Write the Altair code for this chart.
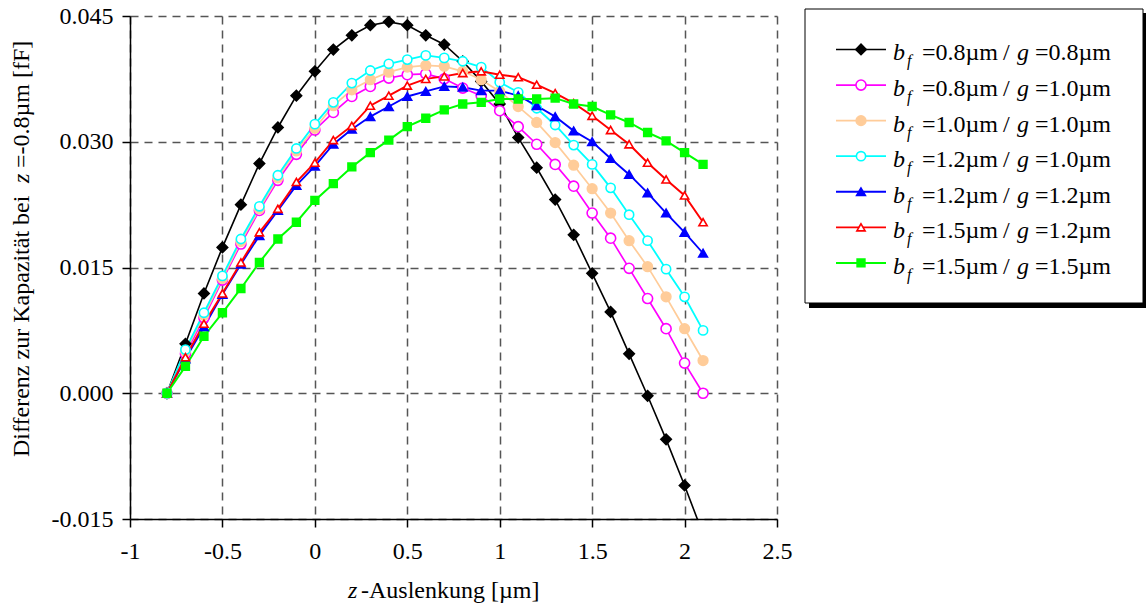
import altair as alt
import pandas as pd

FONT = "Liberation Serif"

# ---------------- data ----------------
z_um = [-0.8, -0.7, -0.6, -0.5, -0.4, -0.3, -0.2, -0.1, 0.0, 0.1,
        0.2, 0.3, 0.4, 0.5, 0.6, 0.7, 0.8, 0.9, 1.0, 1.1,
        1.2, 1.3, 1.4, 1.5, 1.6, 1.7, 1.8, 1.9, 2.0, 2.1]

s_08_08 = [0.0, 0.0059, 0.0119, 0.0174, 0.0225, 0.0274, 0.0317, 0.0355, 0.0384, 0.0410,
           0.0427, 0.0439, 0.0443, 0.0439, 0.0427, 0.0416, 0.0396, 0.0372, 0.0345, 0.0305,
           0.0269, 0.0231, 0.0189, 0.0143, 0.0097, 0.0047, -0.0003, -0.0055, -0.0110, -0.0168]
s_08_10 = [0.0, 0.0047, 0.0090, 0.0135, 0.0178, 0.0218, 0.0254, 0.0285, 0.0314, 0.0335,
           0.0354, 0.0366, 0.0376, 0.0380, 0.0381, 0.0375, 0.0364, 0.0355, 0.0337, 0.0318,
           0.0297, 0.0273, 0.0247, 0.0215, 0.0185, 0.0149, 0.0113, 0.0077, 0.0036, 0.0000]
s_10_10 = [0.0, 0.0050, 0.0093, 0.0137, 0.0181, 0.0220, 0.0257, 0.0289, 0.0316, 0.0343,
           0.0362, 0.0374, 0.0383, 0.0389, 0.0391, 0.0390, 0.0384, 0.0374, 0.0360, 0.0342,
           0.0323, 0.0299, 0.0272, 0.0244, 0.0215, 0.0182, 0.0151, 0.0115, 0.0077, 0.0039]
s_12_10 = [0.0, 0.0052, 0.0096, 0.0140, 0.0184, 0.0223, 0.0260, 0.0292, 0.0321, 0.0347,
           0.0370, 0.0385, 0.0393, 0.0398, 0.0403, 0.0400, 0.0396, 0.0389, 0.0371, 0.0359,
           0.0340, 0.0320, 0.0296, 0.0273, 0.0245, 0.0213, 0.0182, 0.0148, 0.0115, 0.0075]
s_12_12 = [0.0, 0.0041, 0.0079, 0.0118, 0.0154, 0.0188, 0.0218, 0.0248, 0.0271, 0.0297,
           0.0315, 0.0330, 0.0342, 0.0354, 0.0360, 0.0366, 0.0365, 0.0361, 0.0361, 0.0355,
           0.0343, 0.0330, 0.0313, 0.0300, 0.0280, 0.0261, 0.0239, 0.0215, 0.0192, 0.0167]
s_15_12 = [0.0, 0.0043, 0.0083, 0.0119, 0.0156, 0.0192, 0.0220, 0.0252, 0.0275, 0.0302,
           0.0319, 0.0343, 0.0355, 0.0367, 0.0375, 0.0378, 0.0382, 0.0384, 0.0380, 0.0377,
           0.0368, 0.0358, 0.0346, 0.0331, 0.0314, 0.0297, 0.0275, 0.0255, 0.0236, 0.0204]
s_15_15 = [0.0, 0.0032, 0.0068, 0.0096, 0.0125, 0.0156, 0.0184, 0.0204, 0.0230, 0.0250,
           0.0270, 0.0287, 0.0302, 0.0318, 0.0328, 0.0338, 0.0345, 0.0347, 0.0351, 0.0351,
           0.0351, 0.0352, 0.0345, 0.0342, 0.0332, 0.0323, 0.0311, 0.0301, 0.0287, 0.0273]

bf_vals = ["0.8", "0.8", "1.0", "1.2", "1.2", "1.5", "1.5"]
g_vals = ["0.8", "1.0", "1.0", "1.0", "1.2", "1.2", "1.5"]
series_values = [s_08_08, s_08_10, s_10_10, s_12_10, s_12_12, s_15_12, s_15_15]

series_names = [f"bf={b} / g={g}" for b, g in zip(bf_vals, g_vals)]
stroke_colors = ["#000000", "#FF00FF", "#FFCC99", "#00FFFF", "#0000FF", "#FF0000", "#00FF00"]
fill_colors = ["#000000", "#FFFFFF", "#FFCC99", "#FFFFFF", "#0000FF", "#FFFFFF", "#00FF00"]
shapes = ["diamond", "circle", "circle", "circle", "triangle-up", "triangle-up", "square"]
sizes = [110, 60, 90, 60, 110, 100, 85]
line_widths = [1.6, 2, 2, 2, 2, 2, 2]

x_ticks = [-1, -0.5, 0, 0.5, 1, 1.5, 2, 2.5]
y_ticks = [-0.015, 0.0, 0.015, 0.030, 0.045]

y_title_parts = ["Differenz zur Kapazität bei", "z", "=-0.8µm [fF]"]
x_title_parts = ["z", "-Auslenkung [µm]"]

rows = []
for name, vals in zip(series_names, series_values):
    for xv, yv in zip(z_um, vals):
        rows.append({"z": xv, "dC": yv, "series": name})
df = pd.DataFrame(rows)

leg = pd.DataFrame({
    "series": series_names,
    "bfpart": ["=" + b + "µm" for b in bf_vals],
    "gpart": ["=" + g + "µm" for g in g_vals],
})

# ---------------- scales ----------------
color_sc = alt.Scale(domain=series_names, range=stroke_colors)
fill_sc = alt.Scale(domain=series_names, range=fill_colors)
shape_sc = alt.Scale(domain=series_names, range=shapes)
size_sc = alt.Scale(domain=series_names, range=sizes)
sw_sc = alt.Scale(domain=series_names, range=line_widths)

axis_common = dict(
    labelFont=FONT, labelFontSize=24, labelColor="black",
    labelFlush=False, labelOverlap=False,
    tickSize=8, tickColor="black", tickWidth=1.5,
    domainColor="black", domainWidth=1.5,
    grid=True, gridColor="#555555", gridDash=[8, 6], gridWidth=1.5,
    title=None,
)

x_enc = alt.X("z:Q", scale=alt.Scale(domain=[-1, 2.5], nice=False, zero=False),
              axis=alt.Axis(values=x_ticks, labelPadding=12,
                            labelExpr="(datum.value < 0 ? '-' : '') + format(abs(datum.value), '~g')",
                            **axis_common))
y_enc = alt.Y("dC:Q", scale=alt.Scale(domain=[-0.015, 0.045], nice=False, zero=False),
              axis=alt.Axis(values=y_ticks, labelPadding=9,
                            labelExpr="(datum.value < 0 ? '-' : '') + format(abs(datum.value), '.3f')",
                            **axis_common))

lines = alt.Chart(df).mark_line(clip=True).encode(
    x=x_enc, y=y_enc,
    color=alt.Color("series:N", scale=color_sc, legend=None),
    strokeWidth=alt.StrokeWidth("series:N", scale=sw_sc, legend=None),
)
points = alt.Chart(df).mark_point(clip=True, opacity=1, fillOpacity=1, strokeWidth=1.6).encode(
    x="z:Q", y="dC:Q",
    shape=alt.Shape("series:N", scale=shape_sc, legend=None),
    stroke=alt.Stroke("series:N", scale=color_sc, legend=None),
    fill=alt.Fill("series:N", scale=fill_sc, legend=None),
    size=alt.Size("series:N", scale=size_sc, legend=None),
)


def txt(s, x, y, size=24, style="normal", angle=0, align="left", baseline="alphabetic"):
    return alt.Chart(pd.DataFrame({"t": [s]})).mark_text(
        font=FONT, fontSize=size, fontStyle=style, angle=angle,
        align=align, baseline=baseline, color="black"
    ).encode(x=alt.value(x), y=alt.value(y), text="t:N")


titles = [
    txt(y_title_parts[0], -108, 441, angle=270, baseline="middle"),
    txt(y_title_parts[1], -108, 167, style="italic", angle=270, baseline="middle"),
    txt(y_title_parts[2], -108, 152, angle=270, baseline="middle"),
    txt(x_title_parts[0], 218, 582, style="italic"),
    txt(x_title_parts[1], 231, 582),
]

main = alt.layer(lines, points, *titles)

# ---------------- legend ----------------
one = pd.DataFrame({"a": [0]})
shadow = alt.Chart(one).mark_rect(color="black").encode(
    x=alt.value(679), x2=alt.value(1016), y=alt.value(-3), y2=alt.value(292))
box = alt.Chart(one).mark_rect(fill="white", stroke="black", strokeWidth=1).encode(
    x=alt.value(675), x2=alt.value(1013), y=alt.value(-7), y2=alt.value(287))

leg_y = alt.Y("series:N", scale=alt.Scale(domain=series_names, range=[15.7, 264.7], padding=0), axis=None)

leg_lines = alt.Chart(leg).mark_rule().encode(
    x=alt.value(706), x2=alt.value(756), y=leg_y,
    color=alt.Color("series:N", scale=color_sc, legend=None),
    strokeWidth=alt.StrokeWidth("series:N", scale=sw_sc, legend=None),
)
leg_points = alt.Chart(leg).mark_point(opacity=1, fillOpacity=1, strokeWidth=1.6).encode(
    x=alt.value(731), y=leg_y,
    shape=alt.Shape("series:N", scale=shape_sc, legend=None),
    stroke=alt.Stroke("series:N", scale=color_sc, legend=None),
    fill=alt.Fill("series:N", scale=fill_sc, legend=None),
    size=alt.Size("series:N", scale=size_sc, legend=None),
)


def leg_text(x, dy, size=24, style="normal", text=None, field=None):
    mk = alt.Chart(leg).mark_text(font=FONT, fontSize=size, fontStyle=style, align="left",
                                  baseline="alphabetic", dy=dy, color="black",
                                  **({"text": text} if text is not None else {}))
    enc = dict(x=alt.value(x), y=leg_y)
    if field is not None:
        enc["text"] = alt.Text(field + ":N")
    return mk.encode(**enc)


leg_texts = [
    leg_text(763, 11, style="italic", text="b"),
    leg_text(777, 17, size=16, style="italic", text="f"),
    leg_text(792, 11, field="bfpart"),
    leg_text(873, 11, text="/"),
    leg_text(887, 11, style="italic", text="g"),
    leg_text(905, 11, field="gpart"),
]

legend = alt.layer(shadow, box, leg_lines, leg_points, *leg_texts)

chart = alt.layer(main, legend).resolve_scale(y="independent").properties(
    width=647, height=503,
    autosize=alt.AutoSizeParams(type="none"),
    padding={"left": 130, "top": 16, "right": 369, "bottom": 86},
    background="white",
).configure_view(strokeWidth=0)

chart.save("out.html", embed_options={"renderer": "svg", "actions": False})
